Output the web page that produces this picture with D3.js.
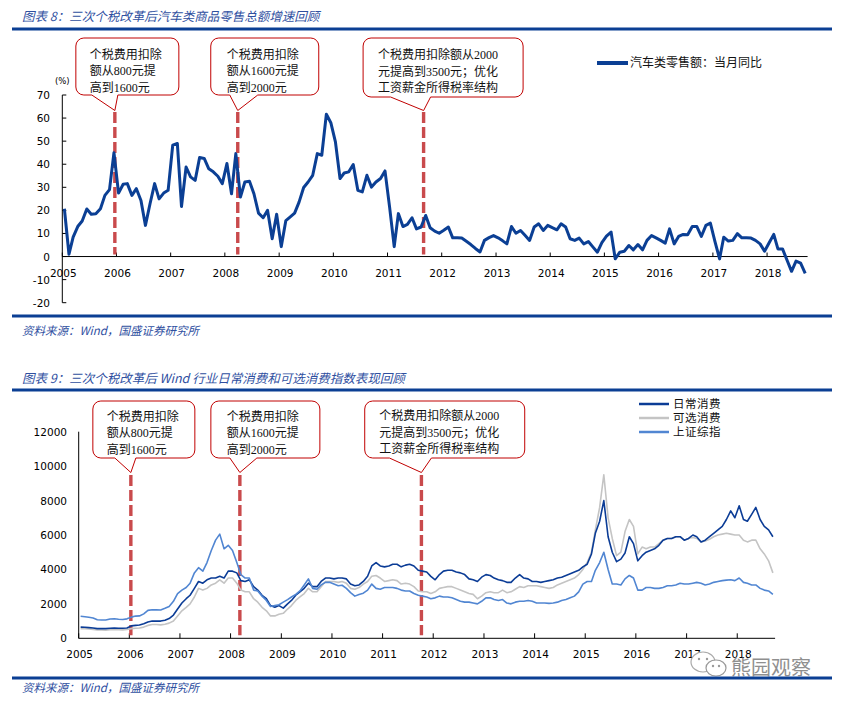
<!DOCTYPE html>
<html><head><meta charset="utf-8">
<script src="https://cdn.jsdelivr.net/npm/d3@7/dist/d3.min.js"></script>
<style>
body{margin:0;background:#fff;}
svg{display:block;}
</style></head><body>
<svg id="c" width="841" height="703"></svg>
<script>
// ---------------- DATA ----------------
const yearTicks = [2005,2006,2007,2008,2009,2010,2011,2012,2013,2014,2015,2016,2017,2018];
const topYTicks = [-20,-10,0,10,20,30,40,50,60,70];
const bottomYTicks = [0,2000,4000,6000,8000,10000,12000];

// 汽车类零售额：当月同比 (%), monthly from 2005-01
const autoStart = "2005-01";
const autoRetailYoY = [
 20.7, 1, 8.4, 13, 15.4, 20.6, 18.3, 18.5, 20.7, 26.5, 29, 45,
 27.5, 31.3, 31.6, 26.5, 29.4, 24.3, 13.5, 22.9, 31.6, 25, 27.5, 28.7,
 48.3, 49, 21.7, 38.8, 34.5, 33, 42.9, 42.5, 38, 36.7, 34.8, 31.6,
 40.3, 27.2, 44.6, 25.8, 32.3, 32.6, 27.2, 18.8, 16.8, 20, 7.7, 18.3,
 4.3, 15.6, 17.1, 18.8, 23.6, 29.9, 32.3, 35.2, 44.6, 43.9, 61.7, 58,
 49.7, 33.8, 36.2, 36.7, 39.9, 28.7, 28, 35.2, 30.1, 32.3, 33.8, 37.1,
 21.4, 4.3, 18.6, 13, 13.9, 16.8, 12, 12.8, 17.8, 12.5, 11, 10.1,
 11.4, 12.8, 8.1, 8.1, 8, 6.6, 5.2, 3.5, 2.0, 7, 8.2, 9.1,
 8.1, 6.8, 5.5, 13, 10.1, 11.3, 9.2, 7, 12.8, 14.2, 11.3, 13.5,
 12.5, 11.6, 14.2, 12.8, 7.7, 7, 8, 5.5, 6.5, 4.2, 1.9, 6,
 8.8, 10.6, -1, 1.9, 2.3, 4.8, 2.9, 5.2, 2.9, 7, 9.1, 8.1,
 7, 5.8, 12, 5.5, 8.7, 9.6, 9.4, 13, 13, 8.7, 13.5, 14.5,
 6.5, -1, 8.4, 6.7, 7, 9.9, 8.1, 8.1, 8, 7, 5.5, 2.3,
 6, 9.6, 3.3, 3.3, -1.5, -6.4, -2, -2.9, -7.3
];

// Index levels, monthly from 2005-01
const indexStart = "2005-01";
const stapleIndex = [ // 日常消费
 650, 640, 620, 600, 560, 560, 560, 580, 590, 580, 580, 600,
 720, 750, 770, 850, 950, 1000, 1000, 1000, 1050, 1150, 1350, 1700,
 2050, 2300, 2500, 2900, 3300, 3200, 3400, 3500, 3500, 3600, 3500, 3900,
 3900, 3800, 3350, 3300, 3400, 3000, 2800, 2500, 2300, 1900, 1800, 1900,
 1750, 2000, 2200, 2500, 2700, 2900, 3200, 3000, 3000, 3300, 3500, 3500,
 3450, 3500, 3500, 3450, 3150, 3050, 3100, 3300, 3600, 4200, 4400, 4200,
 4150, 4200, 4300, 4300, 4150, 4250, 4300, 4200, 3950, 3900, 3850, 3600,
 3400, 3700, 3900, 3950, 3950, 3850, 3800, 3700, 3450, 3400, 3300, 3550,
 3700, 3650, 3500, 3400, 3350, 3250, 3250, 3500, 3700, 3500, 3450, 3300,
 3300, 3250, 3300, 3350, 3400, 3500, 3550, 3650, 3750, 3850, 3950, 4150,
 4300, 4900, 6100, 6800, 8000, 5900, 5000, 4450, 4600, 4950, 5900, 5500,
 4500, 4800, 5000, 5100, 5200, 5400, 5700, 5800, 5800, 5900, 5900, 5700,
 5800, 6000, 5900, 5600, 5700, 5900, 6100, 6300, 6500, 6900, 7400, 7000,
 7700, 6900, 6800, 7200, 7600, 6900, 6500, 6300, 5900
];
const discIndex = [ // 可选消费
 560, 560, 540, 520, 480, 480, 470, 500, 510, 500, 490, 510,
 560, 580, 600, 650, 750, 800, 800, 780, 820, 880, 1000, 1300,
 1600, 1800, 2000, 2400, 2900, 2800, 2900, 3100, 3200, 3400, 3200, 3500,
 3500, 3200, 2800, 2700, 2700, 2300, 2100, 1800, 1600, 1300, 1300, 1400,
 1450, 1700, 1900, 2200, 2400, 2600, 2900, 2700, 2700, 3000, 3300, 3300,
 3300, 3250, 3300, 3200, 2900, 2850, 2950, 3150, 3300, 3600, 3650, 3500,
 3300, 3350, 3400, 3350, 3150, 3200, 3150, 3000, 2750, 2700, 2700, 2600,
 2700, 2900, 2950, 3000, 3000, 2900, 2800, 2700, 2600, 2550, 2300, 2450,
 2650, 2700, 2650, 2650, 2800, 2650, 2700, 2850, 3000, 2950, 3050, 3050,
 3050, 3000, 2950, 2900, 2950, 3100, 3200, 3300, 3400, 3500, 3700, 4000,
 4400, 5000, 6300, 7600, 9500, 7000, 5800, 4800, 5000, 6200, 6900, 6500,
 4900, 5300, 5200, 5300, 5300, 5500, 5700, 5800, 5800, 5900, 5900, 5700,
 5800, 5850, 5800, 5600, 5650, 5750, 5900, 6000, 6050, 6100, 6050, 6000,
 6000, 5700, 5600, 5700, 5700, 5200, 4900, 4500, 3800
];
const sseIndex = [ // 上证综指
 1280, 1250, 1220, 1180, 1080, 1060, 1060, 1120, 1140, 1110, 1090, 1130,
 1230, 1290, 1300, 1420, 1620, 1660, 1650, 1640, 1740, 1850, 2150, 2600,
 2800, 2950, 3200, 3800, 4100, 3900, 4400, 5100, 5700, 6050, 5200, 5400,
 5100, 4400, 3700, 3500, 3500, 2800, 2750, 2450, 2200, 1850, 1900, 1950,
 2100, 2250, 2400, 2550, 2750, 3100, 3450, 2900, 2850, 3100, 3250, 3250,
 3150, 3050, 3080, 2900, 2650, 2450, 2550, 2620, 2800, 3150, 2900, 2850,
 2950, 2950, 2950, 2900, 2800, 2750, 2750, 2600, 2500, 2450, 2400, 2300,
 2350, 2450, 2400, 2400, 2350, 2250, 2150, 2100, 2100, 2050, 2000, 2150,
 2350, 2350, 2250, 2200, 2250, 2050, 2000, 2100, 2150, 2150, 2200, 2150,
 2050, 2050, 2050, 2030, 2050, 2100, 2200, 2250, 2350, 2450, 2700, 3150,
 3300, 3300, 3950, 4400, 5000, 4000, 3150, 3150, 3100, 3450, 3650, 3500,
 2800, 2800, 2950, 2950, 2900, 2900, 2950, 3050, 3050, 3100, 3200, 3150,
 3150, 3200, 3250, 3200, 3100, 3150, 3250, 3300, 3350, 3380, 3400, 3350,
 3500, 3250, 3200, 3100, 3100, 2900, 2800, 2750, 2550
];
const indexNames = ["日常消费","可选消费","上证综指"];
const autoLegend = "汽车类零售额：当月同比";

const reformNotes = [
 ["个税费用扣除","额从800元提","高到1600元"],
 ["个税费用扣除","额从1600元提","高到2000元"],
 ["个税费用扣除额从2000","元提高到3500元；优化","工资薪金所得税率结构"]
];
const topReformDates = ["2005-12-21","2008-03-28","2011-09-01"];
const bottomReformDates = ["2006-01-12","2008-03-08","2011-10-08"];

const title8 = "图表 8：三次个税改革后汽车类商品零售总额增速回顾";
const title9 = "图表 9：三次个税改革后 Wind 行业日常消费和可选消费指数表现回顾";
const sourceText = "资料来源：Wind，国盛证券研究所";
const watermark = "熊园观察";

// ---------------- DRAW ----------------
const svg = d3.select("#c");
const CJK = "'Noto Sans CJK SC', sans-serif";
const NOTE = "'Liberation Serif', 'Noto Sans CJK SC', serif";
const NUM = "'DejaVu Sans', Verdana, sans-serif";
const BLUE = "#0b3f94";
const TXTBLUE = "#2f4f9f";
const parseM = d3.timeParse("%Y-%m");
const parseD = d3.timeParse("%Y-%m-%d");
const monthly = (start, arr) => {
  const s = parseM(start);
  return arr.map((v,i) => ({date: d3.timeDay.offset(d3.timeMonth.offset(s, i), 14), v}));
};
const domain = [new Date(2005,0,1), new Date(2018,9,1)];

function rule(y){ svg.append("line").attr("x1",12).attr("x2",832).attr("y1",y).attr("y2",y)
  .attr("stroke",BLUE).attr("stroke-width",3); }
function italicText(x,y,t,size){ svg.append("text").attr("x",x).attr("y",y).text(t)
  .attr("font-family",CJK).attr("font-style","italic").attr("font-size",size)
  .attr("fill",TXTBLUE).attr("dominant-baseline","central"); }
italicText(22,15,title8,12.5); rule(29);
rule(316); italicText(22,330,sourceText,11.5);
italicText(22,377,title9,12.5); rule(390);

function callout(g, tipX, tipY, box, notes){
  const x = tipX + box.dx, y = box.y, w = box.w, h = box.h, r = 8;
  const bl = tipX + box.bl, br = tipX + box.br;
  const p = `M${x+r},${y} H${x+w-r} A${r},${r} 0 0 1 ${x+w},${y+r} V${y+h-r} A${r},${r} 0 0 1 ${x+w-r},${y+h}`+
    ` H${br} L${tipX},${tipY} L${bl},${y+h} H${x+r} A${r},${r} 0 0 1 ${x},${y+h-r} V${y+r} A${r},${r} 0 0 1 ${x+r},${y} Z`;
  g.append("path").attr("d",p).attr("fill","#fff").attr("stroke","#c00000").attr("stroke-width",1);
  notes.forEach((t,i)=>{
    g.append("text").attr("x",x+box.tx).attr("y",box.ty + i*16.6).text(t)
      .attr("font-family",NOTE).attr("font-size",12).attr("fill","#111")
      .attr("dominant-baseline","central");
  });
}

// ---------- Chart 8 ----------
{
  const x = d3.scaleTime().domain(domain).range([62.3, 807.6]);
  const y = d3.scaleLinear().domain([-20,70]).range([302.7, 95]);
  const g = svg.append("g");
  const data = monthly(autoStart, autoRetailYoY);
  g.append("line").attr("x1",x(domain[0])).attr("x2",x(domain[0])).attr("y1",y(70)).attr("y2",y(-20)).attr("stroke","#000");
  topYTicks.forEach(t=>{
    g.append("line").attr("x1",x(domain[0])).attr("x2",x(domain[0])+4).attr("y1",y(t)).attr("y2",y(t)).attr("stroke","#000");
    g.append("text").attr("x",50).attr("y",y(t)).text(t).attr("text-anchor","end")
      .attr("dominant-baseline","central").attr("font-family",NUM).attr("font-size",10.5).attr("fill","#000");
  });
  g.append("text").attr("x",x(domain[0])).attr("y",81).text("(%)").attr("text-anchor","middle")
    .attr("dominant-baseline","central").attr("font-family",NUM).attr("font-size",8.5).attr("fill","#000");
  g.append("line").attr("x1",x(domain[0])).attr("x2",x(domain[1])).attr("y1",y(0)).attr("y2",y(0)).attr("stroke","#000");
  yearTicks.forEach(yr=>{
    const xx = x(new Date(yr,0,1));
    g.append("line").attr("x1",xx).attr("x2",xx).attr("y1",y(0)).attr("y2",y(0)-4).attr("stroke","#000");
    g.append("text").attr("x",xx+1).attr("y",273).text(yr).attr("text-anchor","middle")
      .attr("dominant-baseline","central").attr("font-family",NUM).attr("font-size",10.5).attr("fill","#000");
  });
  const boxes = [
    {dx:-39, y:38, w:103, h:57, bl:-23, br:3, tx:14, ty:54.5},
    {dx:-27, y:38, w:108, h:57, bl:-8, br:20, tx:16, ty:54.5},
    {dx:-60.5, y:38, w:160, h:59, bl:-33, br:7, tx:15, ty:55}
  ];
  topReformDates.forEach((d,i)=>{
    const xx = x(parseD(d));
    g.append("line").attr("x1",xx).attr("x2",xx).attr("y1",112).attr("y2",y(0)-2)
      .attr("stroke","#c94a4c").attr("stroke-width",3.4).attr("stroke-dasharray","11,4");
    callout(g, xx, 110.5, boxes[i], reformNotes[i]);
  });
  g.append("path").datum(data).attr("fill","none").attr("stroke",BLUE).attr("stroke-width",3)
    .attr("stroke-linejoin","round").attr("d", d3.line().x(d=>x(d.date)).y(d=>y(d.v)));
  g.append("line").attr("x1",597).attr("x2",628).attr("y1",63).attr("y2",63).attr("stroke",BLUE).attr("stroke-width",4);
  g.append("text").attr("x",630).attr("y",63).text(autoLegend).attr("dominant-baseline","central")
    .attr("font-family",NOTE).attr("font-size",12).attr("fill","#111");
}

// ---------- Chart 9 ----------
{
  const x = d3.scaleTime().domain(domain).range([78.7, 775.1]);
  const y = d3.scaleLinear().domain([0,12000]).range([638.3, 431.7]);
  const g = svg.append("g");
  g.append("line").attr("x1",x(domain[0])).attr("x2",x(domain[0])).attr("y1",y(12000)).attr("y2",y(0)).attr("stroke","#000");
  bottomYTicks.forEach(t=>{
    g.append("text").attr("x",67).attr("y",y(t)).text(t).attr("text-anchor","end")
      .attr("dominant-baseline","central").attr("font-family",NUM).attr("font-size",10.5).attr("fill","#000");
  });
  g.append("line").attr("x1",x(domain[0])).attr("x2",x(domain[1])).attr("y1",y(0)).attr("y2",y(0)).attr("stroke","#000");
  yearTicks.forEach(yr=>{
    const xx = x(new Date(yr,0,1));
    g.append("line").attr("x1",xx).attr("x2",xx).attr("y1",y(0)).attr("y2",y(0)-5).attr("stroke","#000");
    g.append("text").attr("x",xx+1).attr("y",654).text(yr).attr("text-anchor","middle")
      .attr("dominant-baseline","central").attr("font-family",NUM).attr("font-size",10.5).attr("fill","#000");
  });
  const boxes = [
    {dx:-38, y:401, w:102, h:57, bl:-16, br:5, tx:14, ty:416.5},
    {dx:-29, y:401, w:109, h:57, bl:-10, br:17, tx:16, ty:416.5},
    {dx:-56.7, y:401, w:160, h:57, bl:-32, br:10, tx:14.5, ty:416}
  ];
  bottomReformDates.forEach((d,i)=>{
    const xx = x(parseD(d));
    g.append("line").attr("x1",xx).attr("x2",xx).attr("y1",475).attr("y2",y(0)-3)
      .attr("stroke","#c94a4c").attr("stroke-width",3.4).attr("stroke-dasharray","11,4");
    callout(g, xx, 472.5, boxes[i], reformNotes[i]);
  });
  const line = d3.line().x(d=>x(d.date)).y(d=>y(d.v));
  const series = [
    {name:indexNames[1], vals:discIndex, color:"#c4c4c4"},
    {name:indexNames[0], vals:stapleIndex, color:"#0b3c96"},
    {name:indexNames[2], vals:sseIndex, color:"#5186d2"}
  ];
  series.forEach(s=>{
    g.append("path").datum(monthly(indexStart, s.vals)).attr("fill","none").attr("stroke",s.color)
      .attr("stroke-width",1.6).attr("stroke-linejoin","round").attr("d",line);
  });
  const legOrder = [series[1], series[0], series[2]];
  legOrder.forEach((s,i)=>{
    const yy = 404 + i*14;
    g.append("line").attr("x1",639).attr("x2",669).attr("y1",yy).attr("y2",yy).attr("stroke",s.color).attr("stroke-width",2.5);
    g.append("text").attr("x",673).attr("y",yy).text(s.name).attr("dominant-baseline","central")
      .attr("font-family",NOTE).attr("font-size",11.5).attr("letter-spacing",0.5).attr("fill","#111");
  });
  const wm = g.append("g");
  wm.append("ellipse").attr("cx",703).attr("cy",662).attr("rx",12).attr("ry",10).attr("fill","#fff").attr("stroke","#aaa").attr("stroke-width",1.2);
  wm.append("ellipse").attr("cx",716).attr("cy",668).attr("rx",10).attr("ry",8).attr("fill","#fff").attr("stroke","#999").attr("stroke-width",1.2);
  [[699,659],[707,659],[713,666],[719,666]].forEach(p=>wm.append("circle").attr("cx",p[0]).attr("cy",p[1]).attr("r",1.2).attr("fill","#999"));
  wm.append("text").attr("x",731).attr("y",666).text(watermark).attr("dominant-baseline","central")
    .attr("font-family",CJK).attr("font-size",20).attr("fill","#8f8f8f");
}
rule(678); italicText(22,687,sourceText,11.5);
</script>
</body></html>
